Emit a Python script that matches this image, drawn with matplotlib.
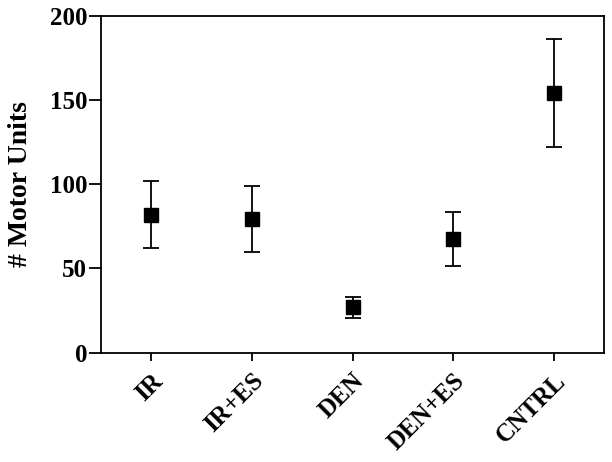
import matplotlib
matplotlib.use("Agg")
import matplotlib.pyplot as plt

categories = ["IR", "IR+ES", "DEN", "DEN+ES", "CNTRL"]
means = [81.6, 79.2, 26.9, 67.7, 154.2]
upper = [101.7, 99.1, 33.2, 83.8, 186.3]
lower = [62.1, 59.7, 20.5, 51.3, 122.0]
yticks = [0, 50, 100, 150, 200]

plt.rcParams['font.family'] = ['Liberation Serif', 'DejaVu Serif']
plt.rcParams['font.weight'] = 'bold'

fig = plt.figure(figsize=(6.12, 4.62), dpi=100)
ax = fig.add_axes([0.165, 0.237, 0.822, 0.728])

x = list(range(len(categories)))
err_lo = [m - l for m, l in zip(means, lower)]
err_hi = [u - m for m, u in zip(means, upper)]
ax.errorbar(x, means, yerr=[err_lo, err_hi], fmt='s', color='black',
            markersize=10, capsize=5.5, elinewidth=1.3, capthick=1.3)

ax.set_xlim(-0.5, 4.5)
ax.set_ylim(0, 200)
ax.set_yticks(yticks)
ax.set_xticks(x)
ax.set_xticklabels(categories, rotation=45, ha='right', rotation_mode='anchor',
                   fontsize=18, fontweight='bold')
ax.set_yticklabels([str(t) for t in yticks], fontsize=18, fontweight='bold')
ax.set_ylabel("# Motor Units", fontsize=20, fontweight='bold', labelpad=12)

for s in ax.spines.values():
    s.set_linewidth(1.3)
ax.tick_params(axis='y', direction='out', length=9, width=1.3, pad=1)
ax.tick_params(axis='x', direction='out', length=6, width=1.3, pad=6)

fig.savefig("out.png", dpi=100)
